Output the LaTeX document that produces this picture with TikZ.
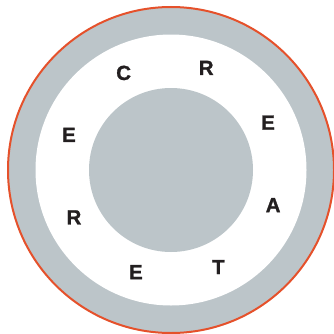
\documentclass[tikz,border=0pt]{standalone}
\usepackage{fontspec}
\setmainfont{Liberation Sans}
\newfontfamily\heavyfont[FakeBold=1.2]{Liberation Sans Bold}
\usepackage{tikz}
\usetikzlibrary{positioning, calc}
\definecolor{cgrey}{RGB}{188, 197, 201}
\definecolor{cred}{RGB}{229, 81, 43}
\definecolor{cink}{RGB}{35, 31, 32}

\begin{document}
\begin{tikzpicture}[
    x=1pt, y=1pt,
    letter/.style={font=\heavyfont\fontsize{20.5}{20.5}\selectfont, text=cink, inner sep=0pt}
]
    \useasboundingbox (0,0) rectangle (334,333);
    \coordinate (c) at (171,163);

    % Rings
    \node[circle, draw=cred, line width=2pt, fill=cgrey, minimum size=326pt, inner sep=0pt] (outer) at (c) {};
    \node[circle, fill=white, minimum size=271pt, inner sep=0pt] (inner) at (c) {};
    \node[circle, fill=cgrey, minimum size=164pt, inner sep=0pt] (core) at (c) {};

    % Letters
    \foreach \i/\l in {0/C, 1/R, 2/E, 3/A, 4/T, 5/E, 6/R, 7/E} {
        \node[letter] (l\i) at ($(c)+({116-45*\i}:108)$) {\l};
    }
\end{tikzpicture}
\end{document}
